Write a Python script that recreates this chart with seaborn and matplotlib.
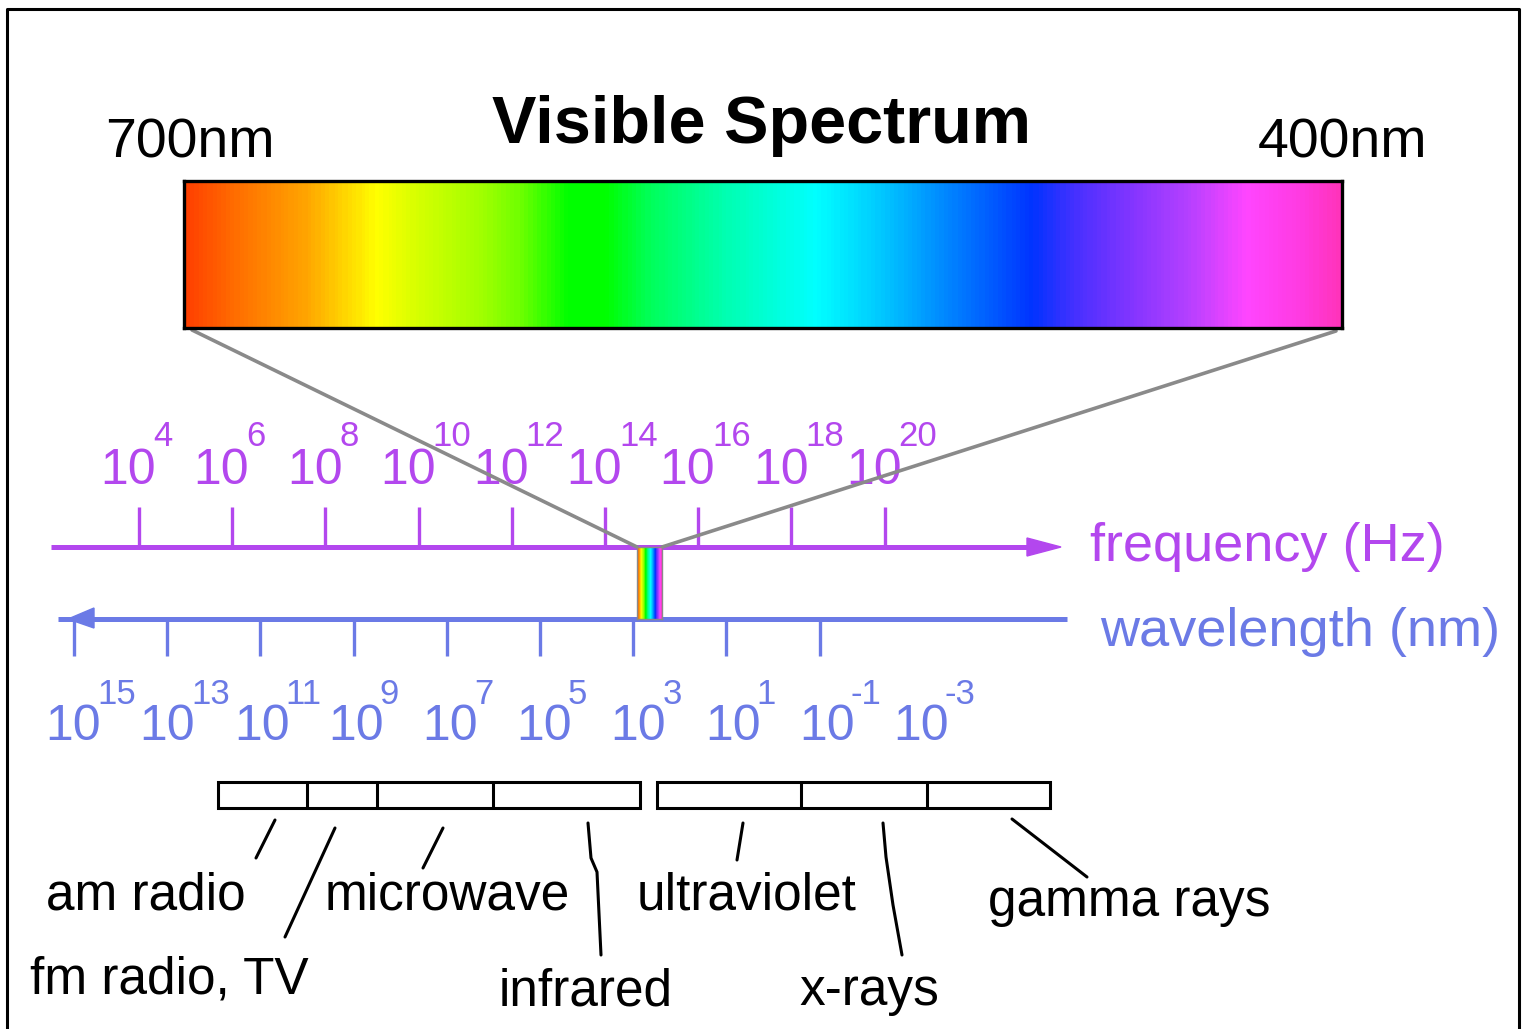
import numpy as np
import matplotlib
matplotlib.use("Agg")
import matplotlib.pyplot as plt
from matplotlib.colors import LinearSegmentedColormap
from matplotlib.patches import Rectangle, Polygon
import seaborn as sns

# --- data -----------------------------------------------------------------
freq_exponents = [4, 6, 8, 10, 12, 14, 16, 18, 20]          # log10 Hz
wave_exponents = [15, 13, 11, 9, 7, 5, 3, 1, -1, -3]        # log10 nm
wave_tick_exponents = wave_exponents[:-1]

# band boundaries in log10 wavelength (nm)
band_edges_long = [11.9, 10.0, 8.5, 6.0, 2.85]
band_edges_short = [2.5, -0.6, -3.3, -5.95]

# visible spectrum gradient (700 nm -> 400 nm)
spectrum_stops = [0.0, 0.045, 0.104, 0.165, 0.198, 0.256, 0.288, 0.331, 0.364,
                  0.402, 0.467, 0.546, 0.595, 0.66, 0.734, 0.774, 0.822, 0.87,
                  0.92, 0.968, 1.0]
spectrum_colors = ["#ff4000", "#ff7000", "#ffa500", "#ffff00", "#d8ff00",
                   "#a0ff00", "#70ff00", "#00ff00", "#00ff00", "#00ff5a",
                   "#00ffb0", "#00ffff", "#00d0ff", "#0085ff", "#0033ff",
                   "#4a30ff", "#8535ff", "#b540ff", "#ff45ff", "#ff3ae0",
                   "#ff33bb"]
visible_labels = ["700nm", "400nm"]

band_labels = ["am radio", "microwave", "ultraviolet", "gamma rays",
               "fm radio, TV", "infrared", "x-rays"]
# (left x, baseline y) of each band label, in canvas pixels
band_label_pos = [(46, 910), (325, 910), (637, 910), (988, 916),
                  (30, 993), (499, 1005), (799, 1005)]
leader_lines = [
    [(275, 820), (256, 858)],
    [(335, 828), (285, 937)],
    [(443, 828), (423, 868)],
    [(588, 823), (591, 858), (597, 872), (601, 955)],
    [(743, 823), (737, 860)],
    [(883, 823), (886, 857), (893, 905), (902, 955)],
    [(1012, 819), (1087, 877)],
]

# --- layout / style -------------------------------------------------------
W, H = 1525, 1029
FREQ_COLOR = "#b347ee"
WAVE_COLOR = "#6b7ae6"
GRAY = "#8a8a8a"
PX_PER_DECADE = 46.6
FREQ_Y, WAVE_Y = 547, 619
BAR = (184, 181, 1342, 328)       # left, top, right, bottom
STRIP = (637, FREQ_Y, 662, WAVE_Y)


def fx(e):
    return 139 + (e - 4) * PX_PER_DECADE


def wx(e):
    return 74 + (15 - e) * PX_PER_DECADE


sns.set_theme(style="white")
plt.rcParams['font.family'] = ['Liberation Sans', 'DejaVu Sans']
plt.rcParams['text.color'] = 'black'

fig = plt.figure(figsize=(W / 100, H / 100), dpi=100)
ax = fig.add_axes([0, 0, 1, 1])
ax.set_xlim(0, W)
ax.set_ylim(H, 0)
ax.axis('off')

# outer frame (bottom edge falls outside the picture)
ax.plot([7, 7, 1519, 1519], [H + 10, 9, 9, H + 10], color='black', lw=2.2)

# title and end labels
ax.text(762, 143, "Visible Spectrum", ha='center', va='baseline',
        fontsize=48, fontweight='bold', color='black')
ax.text(105, 158, visible_labels[0], ha='left', va='baseline', fontsize=40, color='black')
ax.text(1258, 158, visible_labels[1], ha='left', va='baseline', fontsize=40, color='black')

# spectrum gradient bar and small strip, drawn with seaborn heatmaps
cmap = LinearSegmentedColormap.from_list("visible", list(zip(spectrum_stops, spectrum_colors)))
grad = np.linspace(0, 1, 600)[None, :]
for (l, t, r, b), edge, lw in [(BAR, 'black', 2.4), (STRIP, GRAY, 1.0)]:
    hax = fig.add_axes([l / W, 1 - b / H, (r - l) / W, (b - t) / H])
    sns.heatmap(grad, cmap=cmap, vmin=0, vmax=1, cbar=False,
                xticklabels=False, yticklabels=False, ax=hax)
    for s in hax.spines.values():
        s.set_visible(True)
        s.set_color(edge)
        s.set_linewidth(lw)

# zoom lines from the bar to the visible strip
ax.plot([BAR[0] + 8, STRIP[0]], [BAR[3] + 2, FREQ_Y], color=GRAY, lw=2.6, zorder=5)
ax.plot([BAR[2] - 6, STRIP[2]], [BAR[3] + 3, FREQ_Y], color=GRAY, lw=2.6, zorder=5)

# frequency axis
ax.plot([51, 1032], [FREQ_Y, FREQ_Y], color=FREQ_COLOR, lw=3.6, solid_capstyle='butt')
ax.add_patch(Polygon([(1027, FREQ_Y - 9), (1061, FREQ_Y), (1027, FREQ_Y + 9)],
                     closed=True, color=FREQ_COLOR))
ax.vlines([fx(e) for e in freq_exponents], 507, FREQ_Y, color=FREQ_COLOR, lw=2.4)
for e in freq_exponents:
    xr = fx(e) - 10 + 27
    ax.text(xr, 484, "10", ha='right', va='baseline', fontsize=36, color=FREQ_COLOR)
    ax.text(xr - 3, 446, str(e), ha='left', va='baseline', fontsize=25, color=FREQ_COLOR)
ax.text(1090, 561, "frequency (Hz)", ha='left', va='baseline', fontsize=39, color=FREQ_COLOR)

# wavelength axis
ax.plot([58, 1067], [WAVE_Y, WAVE_Y], color=WAVE_COLOR, lw=3.6, solid_capstyle='butt')
ax.add_patch(Polygon([(94, WAVE_Y - 11), (68, WAVE_Y), (94, WAVE_Y + 9)],
                     closed=True, color=WAVE_COLOR))
ax.vlines([wx(e) for e in wave_tick_exponents], WAVE_Y, 656, color=WAVE_COLOR, lw=2.4)
for e in wave_exponents:
    xr = wx(e) + 27 + (15 - e) * 0.5
    ax.text(xr, 740, "10", ha='right', va='baseline', fontsize=36, color=WAVE_COLOR)
    ax.text(xr - 4, 704, str(e), ha='left', va='baseline', fontsize=25, color=WAVE_COLOR)
ax.text(1100, 646, "wavelength (nm)", ha='left', va='baseline', fontsize=39, color=WAVE_COLOR)

# band boxes
for edges in (band_edges_long, band_edges_short):
    xs = [wx(e) for e in edges]
    ax.add_patch(Rectangle((xs[0], 782), xs[-1] - xs[0], 26, fill=False,
                           ec='black', lw=2.2))
    ax.vlines(xs[1:-1], 782, 808, color='black', lw=2.2)

# leader lines and band names
for pts in leader_lines:
    px, py = zip(*pts)
    ax.plot(px, py, color='black', lw=2.2)
for label, (x, y) in zip(band_labels, band_label_pos):
    ax.text(x, y, label, ha='left', va='baseline', fontsize=37, color='black')

fig.savefig("out.png", dpi=100)
